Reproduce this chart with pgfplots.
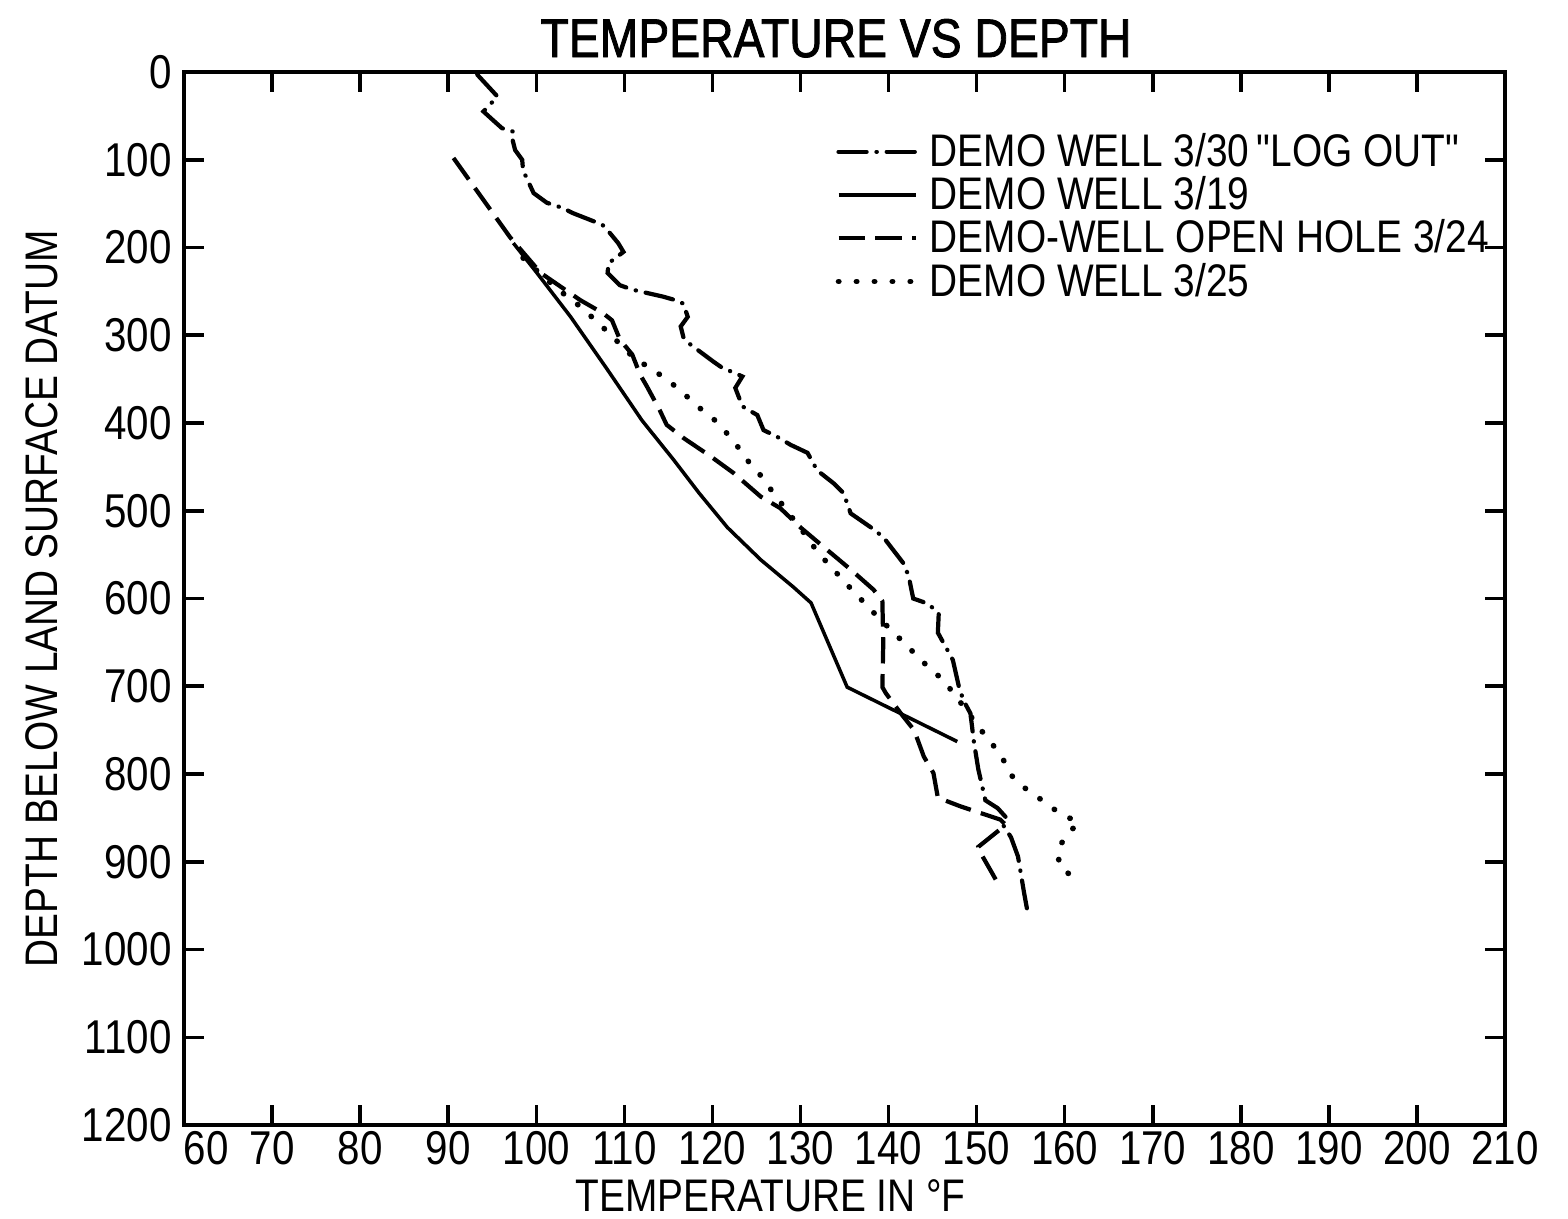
\documentclass[border=0pt]{standalone}
\usepackage{fontspec}
\setmainfont[FakeStretch=0.85]{Liberation Sans}
\newfontfamily\plainsans{Liberation Sans}
\newfontfamily\legendfont[FakeStretch=0.85]{Liberation Sans}
\newfontfamily\titlefont[FakeStretch=0.85, FakeBold=1.5]{Liberation Sans}
\usepackage{graphicx}
\usepackage{pgfplots}
\pgfplotsset{compat=1.18}
\begin{document}
\begin{tikzpicture}
\begin{axis}[
  scale only axis,
  width=13.21cm, height=10.53cm,
  xmin=60, xmax=210, ymin=0, ymax=1200,
  y dir=reverse,
  xtick={60,70,...,210},
  xticklabels={\hphantom{00}60,70,80,90,100,110,120,130,140,150,160,170,180,190,200,210},
  ytick={0,100,...,1200},
  major tick length=0.2cm,
  axis line style={line width=1pt},
  every tick/.style={black, line width=1pt},
  ticklabel style={font=\fontsize{13.5}{15}\selectfont},
  xticklabel style={inner sep=1.5pt},
  /pgf/number format/assume math mode=true,
  /pgf/number format/1000 sep={},
  every axis title shift=0pt,
  title={\titlefont TEMPERATURE VS DEPTH},
  title style={at={(0.4936,1.032)}, anchor=center, font=\fontsize{15.5}{18}\selectfont},
  xlabel={TEMPERATURE IN °F},
  xlabel style={at={(0.444,-0.067)}, anchor=center, font=\fontsize{13}{15}\selectfont},
  ylabel={\scalebox{0.85}[1]{\plainsans DEPTH BELOW LAND SURFACE DATUM}},
  ylabel style={at={(-0.1075,0.5)}, anchor=center, font=\fontsize{13}{15}\selectfont},
  legend cell align=left,
  legend style={at={(0.4928,0.9454)}, anchor=north west, draw=none, fill=none,
    inner sep=0pt, row sep=0pt, column sep=0.8mm,
    font=\legendfont\fontsize{13}{13}\selectfont,
    nodes={inner sep=1pt, text height=9.3pt, text depth=1pt}},
  legend image code/.code={\draw[#1] (0cm,0cm) -- (0.77cm,0cm);},
]
% demo well 3/30 "log out"
\addplot[black, line width=1.2pt, line cap=round,
  dash pattern=on 8pt off 2.8pt on 0.1pt off 2.8pt] coordinates {
(93.3,3) (95.6,28) (94.0,45) (95.1,55) (96.1,64) (97.4,68) (97.3,77)
(97.6,89) (98.4,100) (98.5,112) (99.0,123) (99.7,138) (101.2,149)
(103.0,155) (104.2,161) (107.5,174) (108.4,184) (109.3,195) (109.9,205)
(108.2,218) (108.1,229) (109.5,243) (110.9,248) (114.4,256) (115.8,260)
(116.7,264) (117.2,279) (116.4,290) (116.7,302) (117.3,309) (120.1,330)
(121.1,337) (122.3,342) (123.4,347) (122.6,360) (123.4,381) (125.1,391)
(125.8,408) (127.4,416) (128.9,425) (130.8,434) (131.9,454) (133.8,469)
(134.9,480) (135.7,503) (138.0,519) (139.4,530) (141.7,560) (142.3,575)
(142.8,600) (144.5,606) (145.7,617) (145.6,639) (146.7,659) (147.3,670)
(148.0,701) (148.5,716) (149.3,731) (149.7,764) (150.2,795) (151.0,830)
(152.4,839) (153.3,849) (153.0,858) (153.9,872) (154.7,894) (155.4,936)
(155.8,958)
};
\addlegendentry{DEMO WELL 3/30\,"LOG OUT"}
% demo well 3/19
\addplot[black, line width=1pt] coordinates {
(97.4,195) (100.0,228) (103.9,279) (108.0,338) (112.0,397) (115.6,442)
(118.5,480) (121.7,519) (125.5,556) (129.2,587) (131.2,605) (135.3,701)
(147.8,763)
};
\addlegendentry{DEMO WELL 3/19}
% demo well open hole 3/24
\addplot[black, line width=1.2pt, dash pattern=on 7.5pt off 3pt] coordinates {
(90.6,98) (97.0,188) (100.5,229) (105.0,260) (107.6,275) (108.6,283)
(109.5,305) (110.9,322) (111.8,345) (112.6,359) (114.0,385) (114.8,402)
(116.7,417) (119.8,438) (122.4,457) (125.5,484) (127.7,497) (130.0,519)
(132.6,541) (135.7,567) (138.3,590) (139.3,603) (139.4,651) (139.3,701)
(139.7,708) (141.4,731) (142.9,750) (143.6,769) (144.0,780) (145.1,799)
(145.6,827) (148.2,837) (152.7,852) (153.3,858) (150.2,883) (150.4,889)
(152.5,926)
};
\addlegendentry{DEMO-WELL OPEN HOLE 3/24}
% demo well 3/25
\addplot[black, line width=1.6pt, line cap=round, dash pattern=on 0.1pt off 5pt] coordinates {
(98.5,212) (100.8,233) (102.5,248) (104.7,265) (106.4,280) (108.2,297)
(111.0,325) (113.0,338) (114.8,350) (116.6,365) (118.3,381) (120.0,394)
(121.5,410) (122.8,426) (124.1,444) (125.5,460) (126.8,478) (130.9,532)
(132.0,548) (133.4,563) (134.9,580) (136.5,597) (138.2,615) (141.4,647)
(142.9,662) (144.4,677) (146.1,692) (147.4,708) (150.5,750) (151.8,766)
(153.1,785) (153.9,801) (155.2,814) (156.9,826) (158.6,839) (160.0,847)
(161.6,856) (160.3,868) (159.4,883) (159.3,903) (160.6,915)
};
\addlegendentry{DEMO WELL 3/25}
\end{axis}
\pgfresetboundingbox
\path[use as bounding box] (-1.84cm,-0.94cm) rectangle (13.84cm,11.25cm);
\end{tikzpicture}
\end{document}
